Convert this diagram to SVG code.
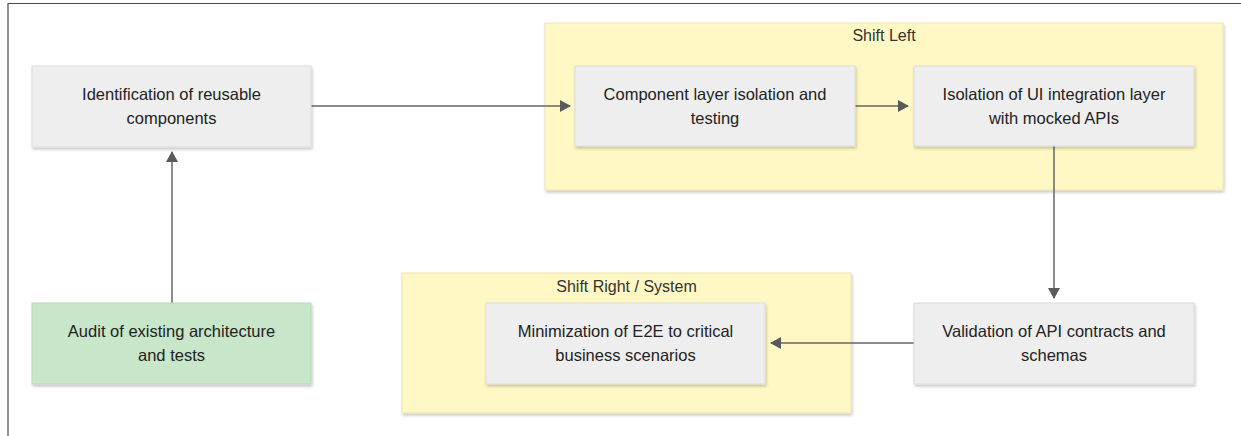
<svg xmlns="http://www.w3.org/2000/svg" width="1241" height="436" viewBox="0 0 1241 436">
<style>
  .node { fill: #eeeeee; stroke: #dcdcdc; stroke-width: 1; filter: url(#sh); }
  .start { fill: #c8e6c9; stroke: #b9d8ba; stroke-width: 1; filter: url(#sh); }
  .group { fill: #fff8c4; stroke: #ece5b0; stroke-width: 1; filter: url(#sh); }
  .t { font-family: "Liberation Sans", Arial, sans-serif; font-size: 16.5px; fill: #222222; text-anchor: middle; }
  .gt { font-family: "Liberation Sans", Arial, sans-serif; font-size: 16px; fill: #333333; text-anchor: middle; }
  .edge { fill: none; stroke: #666666; stroke-width: 1.5; marker-end: url(#arr); }
  .frame { stroke: #4a4a4a; stroke-width: 1.2; fill: none; }
</style>
<defs>
  <filter id="sh" x="-5%" y="-5%" width="112%" height="120%">
    <feDropShadow dx="1" dy="2" stdDeviation="1.5" flood-color="#000000" flood-opacity="0.22"/>
  </filter>
  <marker id="arr" markerWidth="12" markerHeight="12" refX="10" refY="6" orient="auto" markerUnits="userSpaceOnUse">
    <path d="M0,0 L11,6 L0,12 Z" fill="#5a5a5a"/>
  </marker>
</defs>
<rect width="1241" height="436" fill="#ffffff"/>
<path class="frame" d="M8,436 L8,3.5 L1241,3.5"/>

<g id="group-shift-left">
  <rect class="group" x="545" y="23" width="678" height="167"/>
  <text class="gt" x="884" y="41">Shift Left</text>
</g>
<g id="group-shift-right">
  <rect class="group" x="402" y="273" width="449" height="140"/>
  <text class="gt" x="626.5" y="292">Shift Right / System</text>
</g>

<g id="connectors">
  <path class="edge" d="M172,303 L172,152"/>
  <path class="edge" d="M311,106 L570,106"/>
  <path class="edge" d="M855,106 L908,106"/>
  <path class="edge" d="M1054,146 L1054,298"/>
  <path class="edge" d="M914,343 L771,343"/>
</g>

<g id="node-identification">
  <rect class="node" x="32" y="66" width="279" height="81"/>
  <text class="t" x="171.5" y="100">Identification of reusable</text>
  <text class="t" x="171.5" y="124">components</text>
</g>
<g id="node-audit">
  <rect class="start" x="32" y="303" width="279" height="81"/>
  <text class="t" x="171.5" y="337">Audit of existing architecture</text>
  <text class="t" x="171.5" y="361">and tests</text>
</g>
<g id="node-component">
  <rect class="node" x="575" y="66" width="280" height="80"/>
  <text class="t" x="715" y="100">Component layer isolation and</text>
  <text class="t" x="715" y="124">testing</text>
</g>
<g id="node-isolation">
  <rect class="node" x="914" y="66" width="280" height="80"/>
  <text class="t" x="1054" y="100">Isolation of UI integration layer</text>
  <text class="t" x="1054" y="124">with mocked APIs</text>
</g>
<g id="node-validation">
  <rect class="node" x="914" y="303" width="280" height="81"/>
  <text class="t" x="1054" y="337">Validation of API contracts and</text>
  <text class="t" x="1054" y="361">schemas</text>
</g>
<g id="node-minimization">
  <rect class="node" x="486" y="303" width="279" height="81"/>
  <text class="t" x="625.5" y="337">Minimization of E2E to critical</text>
  <text class="t" x="625.5" y="361">business scenarios</text>
</g>
</svg>
